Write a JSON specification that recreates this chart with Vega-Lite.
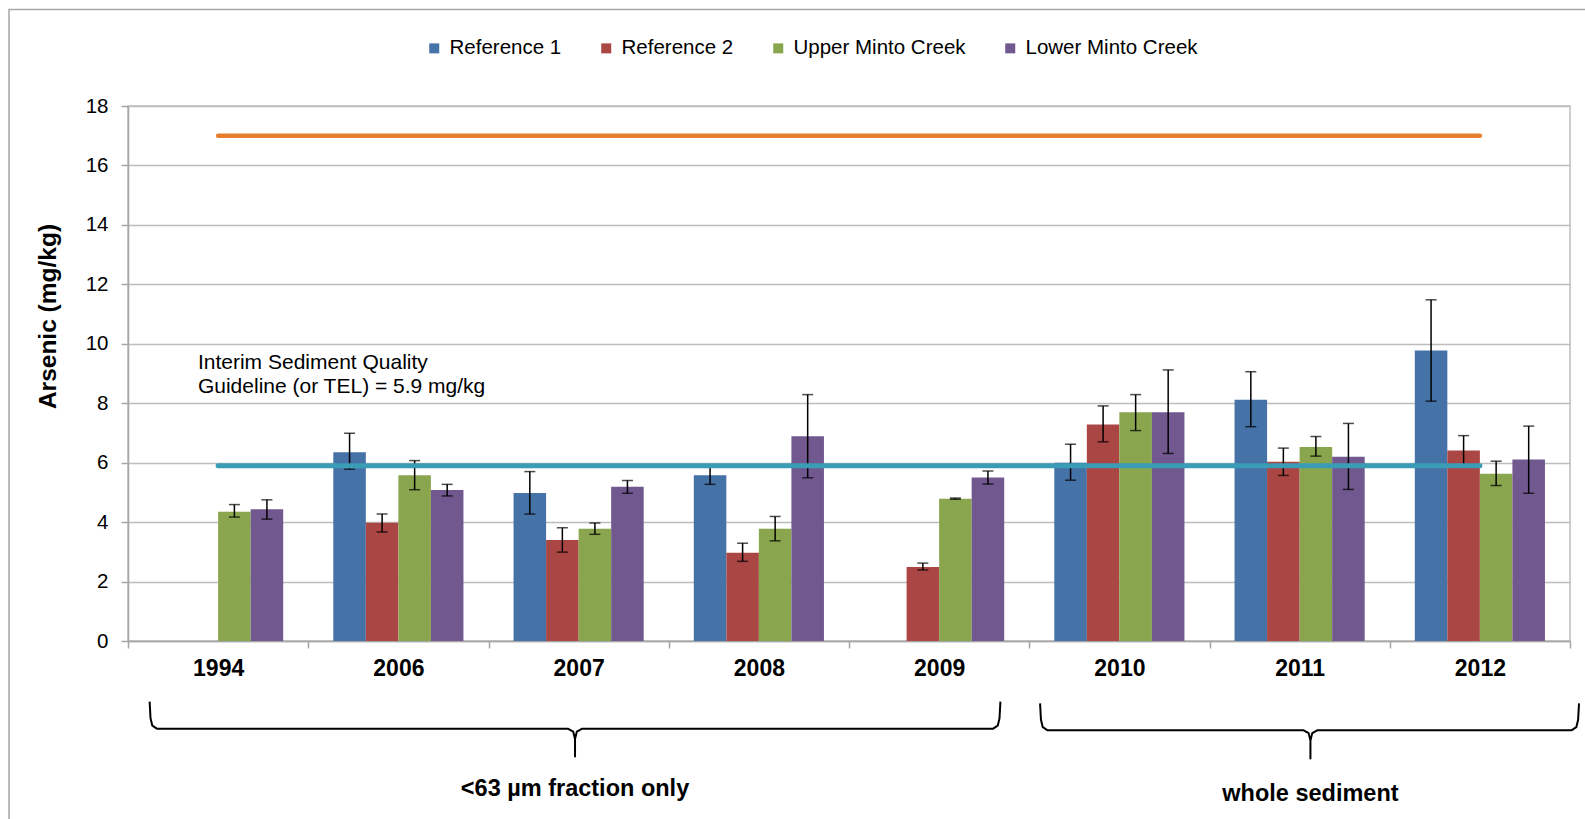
{
  "$schema": "https://vega.github.io/schema/vega-lite/v6.json",
  "width": 1442,
  "height": 535,
  "autosize": {"type": "none"},
  "padding": {"left": 128, "top": 106, "right": 15, "bottom": 178},
  "background": "white",
  "config": {
    "view": {"stroke": "#BDBDBD", "strokeWidth": 1.5},
    "font": "Liberation Sans"
  },
  "datasets": {
    "bars": [
      {"year": "1994", "site": "Upper Minto Creek", "v": 4.35, "lo": 4.17, "hi": 4.59},
      {"year": "1994", "site": "Lower Minto Creek", "v": 4.43, "lo": 4.1, "hi": 4.75},
      {"year": "2006", "site": "Reference 1", "v": 6.35, "lo": 5.78, "hi": 6.99},
      {"year": "2006", "site": "Reference 2", "v": 3.98, "lo": 3.67, "hi": 4.27},
      {"year": "2006", "site": "Upper Minto Creek", "v": 5.58, "lo": 5.09, "hi": 6.07},
      {"year": "2006", "site": "Lower Minto Creek", "v": 5.08, "lo": 4.88, "hi": 5.27},
      {"year": "2007", "site": "Reference 1", "v": 4.98, "lo": 4.27, "hi": 5.7},
      {"year": "2007", "site": "Reference 2", "v": 3.4, "lo": 2.99, "hi": 3.81},
      {"year": "2007", "site": "Upper Minto Creek", "v": 3.78, "lo": 3.59, "hi": 3.97},
      {"year": "2007", "site": "Lower Minto Creek", "v": 5.19, "lo": 4.97, "hi": 5.4},
      {"year": "2008", "site": "Reference 1", "v": 5.58, "lo": 5.27, "hi": 5.89},
      {"year": "2008", "site": "Reference 2", "v": 2.97, "lo": 2.68, "hi": 3.29},
      {"year": "2008", "site": "Upper Minto Creek", "v": 3.78, "lo": 3.37, "hi": 4.19},
      {"year": "2008", "site": "Lower Minto Creek", "v": 6.89, "lo": 5.49, "hi": 8.29},
      {"year": "2009", "site": "Reference 2", "v": 2.49, "lo": 2.39, "hi": 2.62},
      {"year": "2009", "site": "Upper Minto Creek", "v": 4.79, "lo": 4.77, "hi": 4.81},
      {"year": "2009", "site": "Lower Minto Creek", "v": 5.5, "lo": 5.28, "hi": 5.72},
      {"year": "2010", "site": "Reference 1", "v": 6.0, "lo": 5.41, "hi": 6.62},
      {"year": "2010", "site": "Reference 2", "v": 7.28, "lo": 6.7, "hi": 7.91},
      {"year": "2010", "site": "Upper Minto Creek", "v": 7.7, "lo": 7.08, "hi": 8.29},
      {"year": "2010", "site": "Lower Minto Creek", "v": 7.7, "lo": 6.31, "hi": 9.12},
      {"year": "2011", "site": "Reference 1", "v": 8.12, "lo": 7.21, "hi": 9.06},
      {"year": "2011", "site": "Reference 2", "v": 6.03, "lo": 5.57, "hi": 6.49},
      {"year": "2011", "site": "Upper Minto Creek", "v": 6.53, "lo": 6.22, "hi": 6.88},
      {"year": "2011", "site": "Lower Minto Creek", "v": 6.2, "lo": 5.1, "hi": 7.32},
      {"year": "2012", "site": "Reference 1", "v": 9.77, "lo": 8.07, "hi": 11.48},
      {"year": "2012", "site": "Reference 2", "v": 6.41, "lo": 5.91, "hi": 6.91},
      {"year": "2012", "site": "Upper Minto Creek", "v": 5.63, "lo": 5.23, "hi": 6.05},
      {"year": "2012", "site": "Lower Minto Creek", "v": 6.11, "lo": 4.97, "hi": 7.23}
    ],
    "orange": [{"pos": 0.5, "v": 17}, {"pos": 7.5, "v": 17}],
    "teal": [{"pos": 0.5, "v": 5.9}, {"pos": 7.5, "v": 5.9}],
    "frame": [{"x1": -0.66, "x2": 8.3, "y1": 21.25, "y2": -7}],
    "note": [
      {"pos": 0.388, "v": 9.14, "t": "Interim Sediment Quality"},
      {"pos": 0.388, "v": 8.36, "t": "Guideline  (or TEL) = 5.9 mg/kg"}
    ],
    "groups": [
      {"pos": 2.48, "v": -5.23, "t": "<63 µm fraction only"},
      {"pos": 6.56, "v": -5.39, "t": "whole sediment"}
    ],
    "braces": [
      {"b": "a", "i": 0, "pos": 0.12, "v": -2.04},
      {"b": "a", "i": 1, "pos": 0.125, "v": -2.6},
      {"b": "a", "i": 2, "pos": 0.135, "v": -2.85},
      {"b": "a", "i": 3, "pos": 0.16, "v": -2.95},
      {"b": "a", "i": 4, "pos": 2.44, "v": -2.95},
      {"b": "a", "i": 5, "pos": 2.47, "v": -3.05},
      {"b": "a", "i": 6, "pos": 2.48, "v": -3.3},
      {"b": "a", "i": 7, "pos": 2.48, "v": -3.89},
      {"b": "a", "i": 8, "pos": 2.48, "v": -3.3},
      {"b": "a", "i": 9, "pos": 2.49, "v": -3.05},
      {"b": "a", "i": 10, "pos": 2.52, "v": -2.95},
      {"b": "a", "i": 11, "pos": 4.8, "v": -2.95},
      {"b": "a", "i": 12, "pos": 4.825, "v": -2.85},
      {"b": "a", "i": 13, "pos": 4.835, "v": -2.6},
      {"b": "a", "i": 14, "pos": 4.84, "v": -2.04},
      {"b": "b", "i": 0, "pos": 5.06, "v": -2.1},
      {"b": "b", "i": 1, "pos": 5.065, "v": -2.65},
      {"b": "b", "i": 2, "pos": 5.075, "v": -2.9},
      {"b": "b", "i": 3, "pos": 5.1, "v": -3.0},
      {"b": "b", "i": 4, "pos": 6.52, "v": -3.0},
      {"b": "b", "i": 5, "pos": 6.55, "v": -3.1},
      {"b": "b", "i": 6, "pos": 6.56, "v": -3.35},
      {"b": "b", "i": 7, "pos": 6.56, "v": -3.95},
      {"b": "b", "i": 8, "pos": 6.56, "v": -3.35},
      {"b": "b", "i": 9, "pos": 6.57, "v": -3.1},
      {"b": "b", "i": 10, "pos": 6.6, "v": -3.0},
      {"b": "b", "i": 11, "pos": 8.01, "v": -3.0},
      {"b": "b", "i": 12, "pos": 8.035, "v": -2.9},
      {"b": "b", "i": 13, "pos": 8.045, "v": -2.65},
      {"b": "b", "i": 14, "pos": 8.05, "v": -2.1}
    ]
  },
  "resolve": {"scale": {"x": "independent"}},
  "layer": [
    {
      "data": {"name": "bars"},
      "layer": [
        {
          "mark": {"type": "bar"},
          "encoding": {
            "x": {
              "field": "year", "type": "nominal",
              "scale": {"paddingInner": 0, "paddingOuter": 0},
              "axis": {
                "title": null, "labelAngle": 0, "tickBand": "extent",
                "labelFontWeight": "bold", "labelFontSize": 23,
                "labelColor": "#000000", "labelPadding": 9, "tickSize": 7,
                "tickColor": "#A6A6A6", "tickWidth": 1.5, "domainColor": "#A6A6A6", "domainWidth": 1.5
              }
            },
            "xOffset": {
              "field": "site", "type": "nominal",
              "scale": {"domain": ["Reference 1", "Reference 2", "Upper Minto Creek", "Lower Minto Creek"], "paddingInner": 0, "paddingOuter": 0.77}
            },
            "y": {
              "field": "v", "type": "quantitative",
              "scale": {"domain": [0, 18], "nice": false, "zero": true},
              "axis": {
                "title": "Arsenic (mg/kg)", "values": [0, 2, 4, 6, 8, 10, 12, 14, 16, 18],
                "titleFontSize": 24.5, "titleFontWeight": "bold", "titleColor": "#000000",
                "titleAngle": 270, "titleAlign": "center", "titleBaseline": "middle",
                "titleX": -80, "titleY": 210,
                "labelFontSize": 20.5, "labelColor": "#000000", "labelPadding": 13,
                "tickSize": 7, "tickColor": "#A6A6A6", "tickWidth": 1.5,
                "domainColor": "#A6A6A6", "domainWidth": 1.5,
                "grid": true, "gridColor": "#BDBDBD", "gridWidth": 1.5
              }
            },
            "color": {
              "field": "site", "type": "nominal",
              "scale": {
                "domain": ["Reference 1", "Reference 2", "Upper Minto Creek", "Lower Minto Creek"],
                "range": ["#4572A7", "#AA4643", "#89A54E", "#71588F"]
              },
              "legend": {
                "title": null, "orient": "none", "direction": "horizontal",
                "legendX": 296, "legendY": -68,
                "symbolType": "square", "symbolSize": 100, "symbolStrokeWidth": 0,
                "labelFontSize": 20.5, "labelColor": "#000000", "labelLimit": 400,
                "labelOffset": 5, "columnPadding": 34
              }
            }
          }
        },
        {
          "mark": {"type": "rule", "color": "#000000", "strokeWidth": 1.5},
          "encoding": {
            "x": {"field": "year", "type": "nominal"},
            "xOffset": {"field": "site", "type": "nominal"},
            "y": {"field": "lo", "type": "quantitative"},
            "y2": {"field": "hi"}
          }
        },
        {
          "mark": {"type": "tick", "color": "#000000", "thickness": 1.5, "size": 11},
          "encoding": {
            "x": {"field": "year", "type": "nominal"},
            "xOffset": {"field": "site", "type": "nominal"},
            "y": {"field": "lo", "type": "quantitative"}
          }
        },
        {
          "mark": {"type": "tick", "color": "#000000", "thickness": 1.5, "size": 11},
          "encoding": {
            "x": {"field": "year", "type": "nominal"},
            "xOffset": {"field": "site", "type": "nominal"},
            "y": {"field": "hi", "type": "quantitative"}
          }
        }
      ]
    },
    {
      "layer": [
        {
          "data": {"name": "orange"},
          "mark": {"type": "line", "color": "#E67E2E", "strokeWidth": 4.5, "strokeCap": "round"},
          "encoding": {
            "x": {"field": "pos", "type": "quantitative", "scale": {"domain": [0, 8], "nice": false, "zero": false}, "axis": null},
            "y": {"field": "v", "type": "quantitative"}
          }
        },
        {
          "data": {"name": "teal"},
          "mark": {"type": "line", "color": "#3A9DB5", "strokeWidth": 5, "strokeCap": "round"},
          "encoding": {
            "x": {"field": "pos", "type": "quantitative"},
            "y": {"field": "v", "type": "quantitative"}
          }
        },
        {
          "data": {"name": "frame"},
          "mark": {"type": "rect", "fill": null, "stroke": "#A6A6A6", "strokeWidth": 1.5},
          "encoding": {
            "x": {"field": "x1", "type": "quantitative"},
            "x2": {"field": "x2"},
            "y": {"field": "y1", "type": "quantitative"},
            "y2": {"field": "y2"}
          }
        },
        {
          "data": {"name": "note"},
          "mark": {"type": "text", "align": "left", "baseline": "alphabetic", "fontSize": 21, "color": "#000000"},
          "encoding": {
            "x": {"field": "pos", "type": "quantitative"},
            "y": {"field": "v", "type": "quantitative"},
            "text": {"field": "t"}
          }
        },
        {
          "data": {"name": "groups"},
          "mark": {"type": "text", "align": "center", "baseline": "alphabetic", "fontSize": 23.5, "fontWeight": "bold", "color": "#000000"},
          "encoding": {
            "x": {"field": "pos", "type": "quantitative"},
            "y": {"field": "v", "type": "quantitative"},
            "text": {"field": "t"}
          }
        },
        {
          "data": {"name": "braces"},
          "mark": {"type": "line", "color": "#000000", "strokeWidth": 2, "strokeJoin": "round"},
          "encoding": {
            "x": {"field": "pos", "type": "quantitative"},
            "y": {"field": "v", "type": "quantitative"},
            "detail": {"field": "b"},
            "order": {"field": "i", "type": "quantitative"}
          }
        }
      ]
    }
  ]
}
